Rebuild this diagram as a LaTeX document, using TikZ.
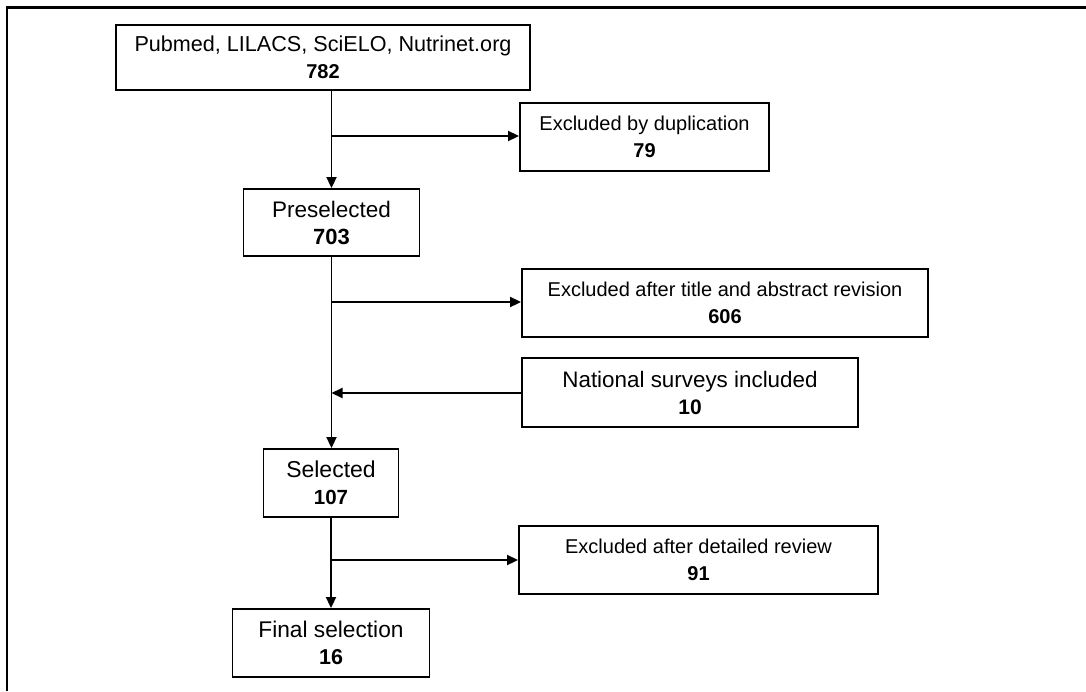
\documentclass[tikz,border=0pt]{standalone}
\usepackage{fontspec}
\setmainfont{Liberation Sans}
\usetikzlibrary{arrows.meta}
\begin{document}
\begin{tikzpicture}[x=1pt,y=-1pt,
  box/.style={draw, line width=1.9pt, inner sep=0pt, align=center,
    font=\fontsize{#1}{27}\selectfont},
  box/.default=20,
  arr/.style={line width=1.9pt, -{Triangle[length=11pt,width=10pt]}}]
\useasboundingbox (0,0) rectangle (1086,691);
\draw[line width=2.5pt] (7,691) -- (7,7.5) -- (1086,7.5);
\node[box=21.6, minimum width=414pt, minimum height=65pt] (src) at (323,57.5) {Pubmed, LILACS, SciELO, Nutrinet.org\\\fontsize{20}{27}\selectfont\textbf{782}};
\node[box, minimum width=249pt, minimum height=68pt] (dup) at (644.5,137) {Excluded by duplication\\\textbf{79}};
\node[box=22.5, minimum width=176pt, minimum height=67pt] (pre) at (331.5,222.5) {Preselected\\\fontsize{22}{27}\selectfont\textbf{703}};
\node[box, minimum width=406pt, minimum height=68pt] (tit) at (725,303) {Excluded after title and abstract revision\\\textbf{606}};
\node[box=22.4, minimum width=336pt, minimum height=69pt] (nat) at (690,392.5) {National surveys included\\\fontsize{21}{27}\selectfont\textbf{10}};
\node[box=23, minimum width=135pt, minimum height=68pt] (sel) at (331,483) {Selected\\\fontsize{20.5}{27}\selectfont\textbf{107}};
\node[box, minimum width=359pt, minimum height=68pt] (det) at (698.5,560) {Excluded after detailed review\\\textbf{91}};
\node[box=22.7, minimum width=197pt, minimum height=68pt] (fin) at (331,643) {Final selection\\\fontsize{21.5}{27}\selectfont\textbf{16}};
\coordinate (j1) at (331.5,136);
\coordinate (j2) at (331.5,302);
\coordinate (j3) at (331.5,393);
\coordinate (j4) at (331,560);
\draw[arr] (pre.north |- src.south) -- (pre.north);
\draw[arr] (j1) -- (dup.west |- j1);
\draw[arr] (pre.south) -- (pre.south |- sel.north);
\draw[arr] (j2) -- (tit.west |- j2);
\draw[arr] (nat.west |- j3) -- (j3);
\draw[arr] (sel.south) -- (fin.north);
\draw[arr] (j4) -- (det.west |- j4);
\end{tikzpicture}
\end{document}
